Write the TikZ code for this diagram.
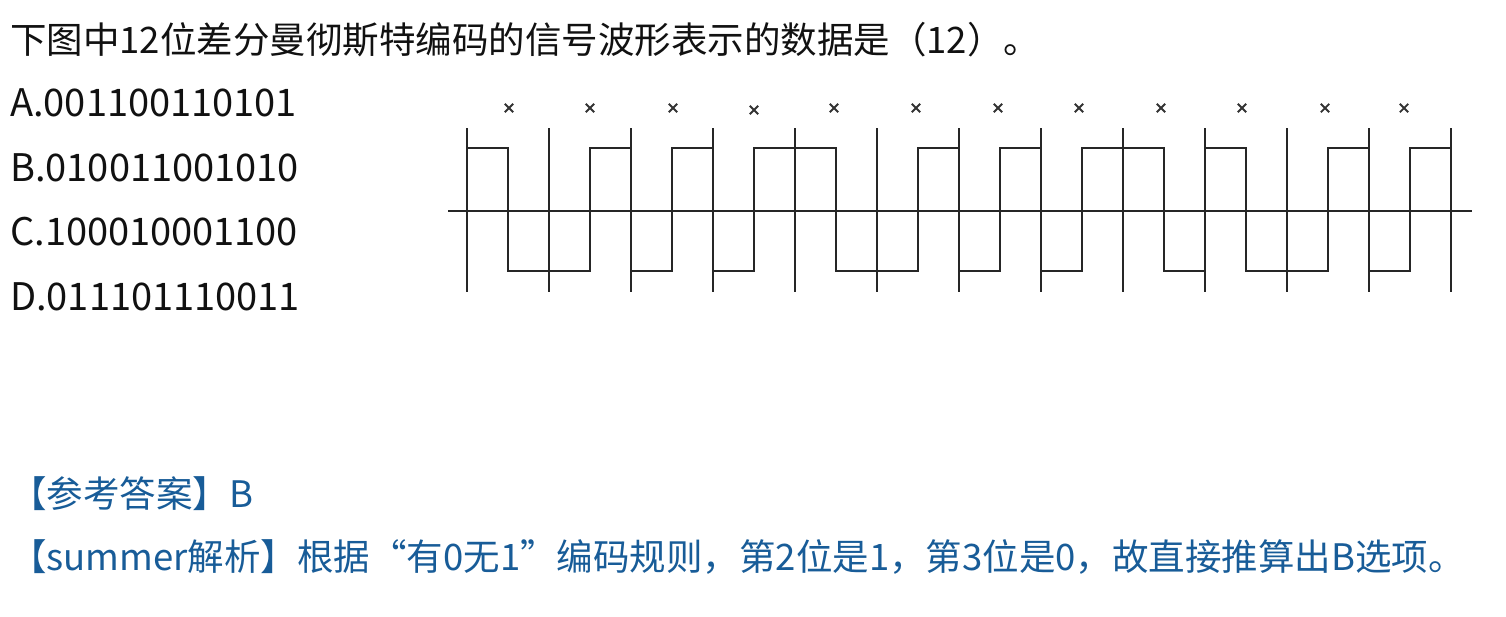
\documentclass[tikz,border=0pt]{standalone}
\usepackage{fontspec}
\setmainfont{Noto Sans CJK SC}
\definecolor{ansblue}{RGB}{24,92,152}
\definecolor{ink}{RGB}{17,17,17}
\begin{document}
\begin{tikzpicture}[x=1pt,y=-1pt,
  txt/.style={anchor=west,inner sep=0pt,text=ink,font=\fontsize{36.5}{42}\selectfont},
  opt/.style={txt,font=\fontsize{38}{42}\selectfont},
  ans/.style={txt,text=ansblue},
  wave/.style={draw=black!85,line width=2pt},
  xmark/.style={draw=black!80,line width=1.8pt}]
\useasboundingbox (0,0) rectangle (1506,616);
\fill[white] (0,0) rectangle (1506,616);
% texts
\node[txt] (title) at (10,40) {下图中12位差分曼彻斯特编码的信号波形表示的数据是（12）。};
\node[opt] (optA) at (10,103) {A.001100110101};
\node[opt] (optB) at (10,168) {B.010011001010};
\node[opt] (optC) at (10,232) {C.100010001100};
\node[opt] (optD) at (10,297) {D.011101110011};
\node[ans] (answer) at (10,494) {【参考答案】B};
\node[ans] (analysis) at (10,557) {【summer解析】根据“有0无1”编码规则，第2位是1，第3位是0，故直接推算出B选项。};
% bit boundaries
\foreach \k in {0,...,12}
  \draw[wave] ({467+82*\k},128) -- ({467+82*\k},292);
% axis
\draw[wave] (448,210.5) -- (1472,210.5);
% signal
\def\H{147.5}\def\L{270.5}
\draw[wave] (467,\H) -- (508,\H) -- (508,\L) -- (590,\L) -- (590,\H) -- (631,\H) -- (631,\L)
  -- (672,\L) -- (672,\H) -- (713,\H) -- (713,\L) -- (754,\L) -- (754,\H) -- (836,\H)
  -- (836,\L) -- (918,\L) -- (918,\H) -- (959,\H) -- (959,\L) -- (1000,\L) -- (1000,\H)
  -- (1041,\H) -- (1041,\L) -- (1082,\L) -- (1082,\H) -- (1164,\H) -- (1164,\L)
  -- (1205,\L) -- (1205,\H) -- (1246,\H) -- (1246,\L) -- (1328,\L) -- (1328,\H)
  -- (1369,\H) -- (1369,\L) -- (1410,\L) -- (1410,\H) -- (1451,\H);
% crosses
\foreach \x/\y in {509/108,590/108,673/108,754/110,834/108,916/108,998/108,1079/108,1161/108,1242/108,1325/108,1404/108}
  \draw[xmark] (\x-4.2,\y-4.2) -- (\x+4.2,\y+4.2) (\x-4.2,\y+4.2) -- (\x+4.2,\y-4.2);
\end{tikzpicture}
\end{document}
